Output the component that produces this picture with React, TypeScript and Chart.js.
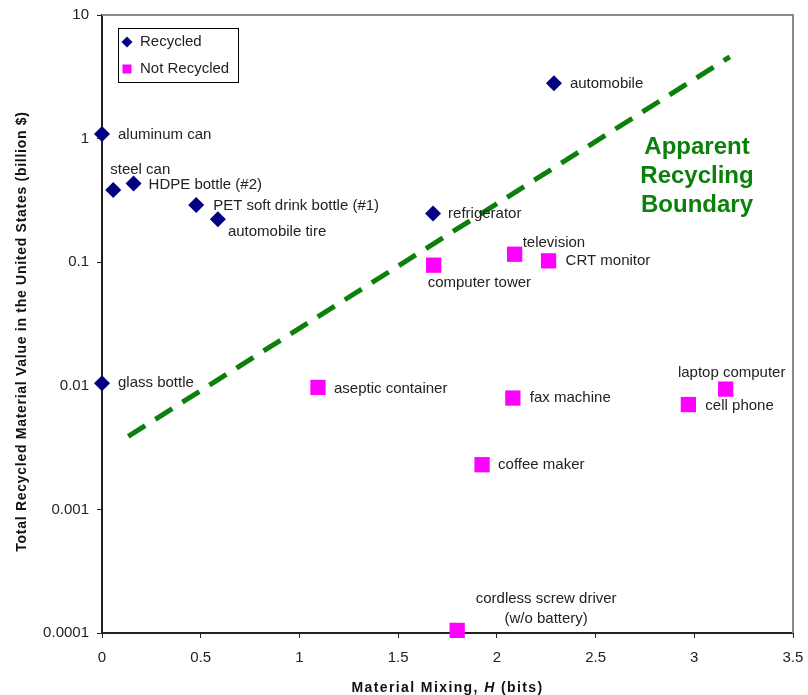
import React, { useEffect, useRef } from 'react';
import { Chart, registerables } from 'chart.js';

Chart.register(...registerables);

const FONT = '"Liberation Sans", Arial, sans-serif';

// ---- data ----
const recycledNames = ['aluminum can', 'steel can', 'HDPE bottle (#2)', 'PET soft drink bottle (#1)', 'automobile tire', 'refrigerator', 'automobile', 'glass bottle'];
const recycledX = [0, 0.057, 0.16, 0.477, 0.587, 1.677, 2.289, 0];
const recycledY = [1.09, 0.383, 0.433, 0.29, 0.223, 0.248, 2.8, 0.0105];

const notRecycledNames = ['computer tower', 'television', 'CRT monitor', 'aseptic container', 'fax machine', 'laptop computer', 'cell phone', 'coffee maker', 'cordless screw driver\n(w/o battery)'];
const notRecycledX = [1.68, 2.09, 2.262, 1.094, 2.081, 3.159, 2.97, 1.925, 1.799];
const notRecycledY = [0.0946, 0.116, 0.1026, 0.0097, 0.00796, 0.0094, 0.00705, 0.0023, 0.000105];

const boundaryX = [0.133, 3.18];
const boundaryY = [0.0039, 4.59];

const yTickValues = [0.0001, 0.001, 0.01, 0.1, 1, 10];
const yTickLabels = ['0.0001', '0.001', '0.01', '0.1', '1', '10'];
const xTickLabels = ['0', '0.5', '1', '1.5', '2', '2.5', '3', '3.5'];

const seriesNames = ['Recycled', 'Not Recycled'];
const boundaryText = ['Apparent', 'Recycling', 'Boundary'];
const xTitleParts = ['Material Mixing, ', 'H', ' (bits)'];
const yTitle = 'Total Recycled Material Value in the United States (billion $)';

// ---- label placement (pixel offsets from the point) ----
const recycledLabelPos = [
  { dx: 16, dy: 1, align: 'left' },
  { dx: -3, dy: -20, align: 'left' },
  { dx: 15, dy: 1, align: 'left' },
  { dx: 17, dy: 1, align: 'left' },
  { dx: 10, dy: 13, align: 'left' },
  { dx: 15, dy: 0, align: 'left' },
  { dx: 16, dy: 1, align: 'left' },
  { dx: 16, dy: 0, align: 'left' },
];
const notRecycledLabelPos = [
  { dx: -6, dy: 18, align: 'left' },
  { dx: 8, dy: -11, align: 'left' },
  { dx: 17, dy: 0, align: 'left' },
  { dx: 16, dy: 1, align: 'left' },
  { dx: 17, dy: 0, align: 'left' },
  { dx: 6, dy: -16, align: 'center' },
  { dx: 17, dy: 1, align: 'left' },
  { dx: 16, dy: 0, align: 'left' },
  { dx: 89, dy: -32, align: 'center' },
];

const NAVY = '#000080';
const MAGENTA = '#ff00ff';
const GREEN = '#0b800b';

const annotations = {
  id: 'annotations',
  beforeDatasetsDraw(chart: any) {
    const { ctx, chartArea } = chart;
    ctx.save();
    ctx.strokeStyle = '#8a8a8a';
    ctx.lineWidth = 2;
    ctx.beginPath();
    ctx.moveTo(chartArea.left, chartArea.top);
    ctx.lineTo(chartArea.right, chartArea.top);
    ctx.lineTo(chartArea.right, chartArea.bottom);
    ctx.stroke();
    ctx.restore();
  },
  afterDatasetsDraw(chart: any) {
    const { ctx } = chart;
    ctx.save();
    ctx.font = `15px ${FONT}`;
    ctx.fillStyle = '#222';
    ctx.textBaseline = 'middle';
    const drawLabels = (dsIndex: number, names: string[], pos: any[]) => {
      const meta = chart.getDatasetMeta(dsIndex);
      meta.data.forEach((el: any, i: number) => {
        const p = pos[i];
        ctx.textAlign = p.align;
        const lines = names[i].split('\n');
        lines.forEach((ln, k) => {
          ctx.fillText(ln, el.x + p.dx, el.y + p.dy + k * 20.5);
        });
      });
    };
    drawLabels(0, recycledNames, recycledLabelPos);
    drawLabels(1, notRecycledNames, notRecycledLabelPos);

    // boundary text
    ctx.font = `bold 24px ${FONT}`;
    ctx.fillStyle = GREEN;
    ctx.textAlign = 'center';
    boundaryText.forEach((t, i) => ctx.fillText(t, 697, 147 + i * 29));

    // legend
    ctx.fillStyle = '#fff';
    ctx.fillRect(118, 28, 120, 54);
    ctx.strokeStyle = '#000';
    ctx.lineWidth = 1;
    ctx.strokeRect(118.5, 28.5, 120, 54);
    ctx.fillStyle = NAVY;
    ctx.beginPath();
    ctx.moveTo(127, 36.5);
    ctx.lineTo(132.5, 42);
    ctx.lineTo(127, 47.5);
    ctx.lineTo(121.5, 42);
    ctx.closePath();
    ctx.fill();
    ctx.fillStyle = MAGENTA;
    ctx.fillRect(122.5, 64.5, 9, 9);
    ctx.fillStyle = '#222';
    ctx.font = `15px ${FONT}`;
    ctx.textAlign = 'left';
    ctx.fillText(seriesNames[0], 140, 42);
    ctx.fillText(seriesNames[1], 140, 69);

    // x title
    ctx.fillStyle = '#111';
    (ctx as any).letterSpacing = '1.4px';
    const fonts = [`bold 14px ${FONT}`, `italic bold 14px ${FONT}`, `bold 14px ${FONT}`];
    let total = 0;
    const widths = xTitleParts.map((t, i) => {
      ctx.font = fonts[i];
      const w = ctx.measureText(t).width;
      total += w;
      return w;
    });
    let x = 447.5 - total / 2;
    xTitleParts.forEach((t, i) => {
      ctx.font = fonts[i];
      ctx.fillText(t, x, 688);
      x += widths[i];
    });

    // y title
    (ctx as any).letterSpacing = '0.72px';
    ctx.font = `bold 14px ${FONT}`;
    ctx.translate(22, 331.5);
    ctx.rotate(-Math.PI / 2);
    ctx.textAlign = 'center';
    ctx.fillText(yTitle, 0, 0);
    (ctx as any).letterSpacing = '0px';
    ctx.restore();
  },
};

export default function App() {
  const ref = useRef<HTMLCanvasElement>(null);
  useEffect(() => {
    document.body.style.margin = '0';
    const canvas = ref.current!;
    const chart = new Chart(canvas, {
      type: 'scatter',
      data: {
        datasets: [
          {
            label: seriesNames[0],
            data: recycledX.map((x, i) => ({ x, y: recycledY[i] })),
            pointStyle: 'rectRot',
            pointRadius: 8,
            pointHoverRadius: 8,
            backgroundColor: NAVY,
            borderColor: NAVY,
            borderWidth: 0,
            clip: false,
          } as any,
          {
            label: seriesNames[1],
            data: notRecycledX.map((x, i) => ({ x, y: notRecycledY[i] })),
            pointStyle: 'rect',
            pointRadius: 10.8,
            pointHoverRadius: 10.8,
            backgroundColor: MAGENTA,
            borderColor: MAGENTA,
            borderWidth: 0,
            clip: false,
          } as any,
          {
            type: 'line',
            label: 'boundary',
            data: boundaryX.map((x, i) => ({ x, y: boundaryY[i] })),
            borderColor: GREEN,
            borderWidth: 5,
            borderDash: [20, 12],
            pointRadius: 0,
            fill: false,
            showLine: true,
          } as any,
        ],
      },
      options: {
        responsive: false,
        animation: false,
        devicePixelRatio: 1,
        events: [],
        layout: { padding: { left: 0, top: 15, right: 15, bottom: 0 } },
        plugins: {
          legend: { display: false },
          tooltip: { enabled: false },
        },
        scales: {
          x: {
            type: 'linear',
            min: 0,
            max: 3.5,
            ticks: {
              stepSize: 0.5,
              padding: 11,
              color: '#222',
              font: { family: FONT, size: 15 },
              callback: (v: any, i: number) => xTickLabels[i],
            },
            grid: { drawOnChartArea: false, drawTicks: true, tickLength: 5, tickColor: '#222', tickWidth: 1 },
            border: { display: true, color: '#222', width: 2 },
            afterFit: (s: any) => {
              s.height = 62;
              s.paddingLeft = 0;
              s.paddingRight = 0;
            },
          },
          y: {
            type: 'logarithmic',
            min: 0.0001,
            max: 10,
            afterBuildTicks: (s: any) => { s.ticks = yTickValues.map((v) => ({ value: v })); },
            ticks: {
              padding: 8,
              color: '#222',
              font: { family: FONT, size: 15 },
              autoSkip: false,
              callback: (v: any) => yTickLabels[Math.round(Math.log10(v)) + 4],
            },
            grid: { drawOnChartArea: false, drawTicks: true, tickLength: 5, tickColor: '#222', tickWidth: 1 },
            border: { display: true, color: '#222', width: 2 },
            afterFit: (s: any) => {
              s.width = 102;
              s.paddingTop = 0;
              s.paddingBottom = 0;
            },
          },
        },
      },
      plugins: [annotations],
    });
    return () => chart.destroy();
  }, []);
  return <canvas ref={ref} width={808} height={695} style={{ display: 'block' }} />;
}
